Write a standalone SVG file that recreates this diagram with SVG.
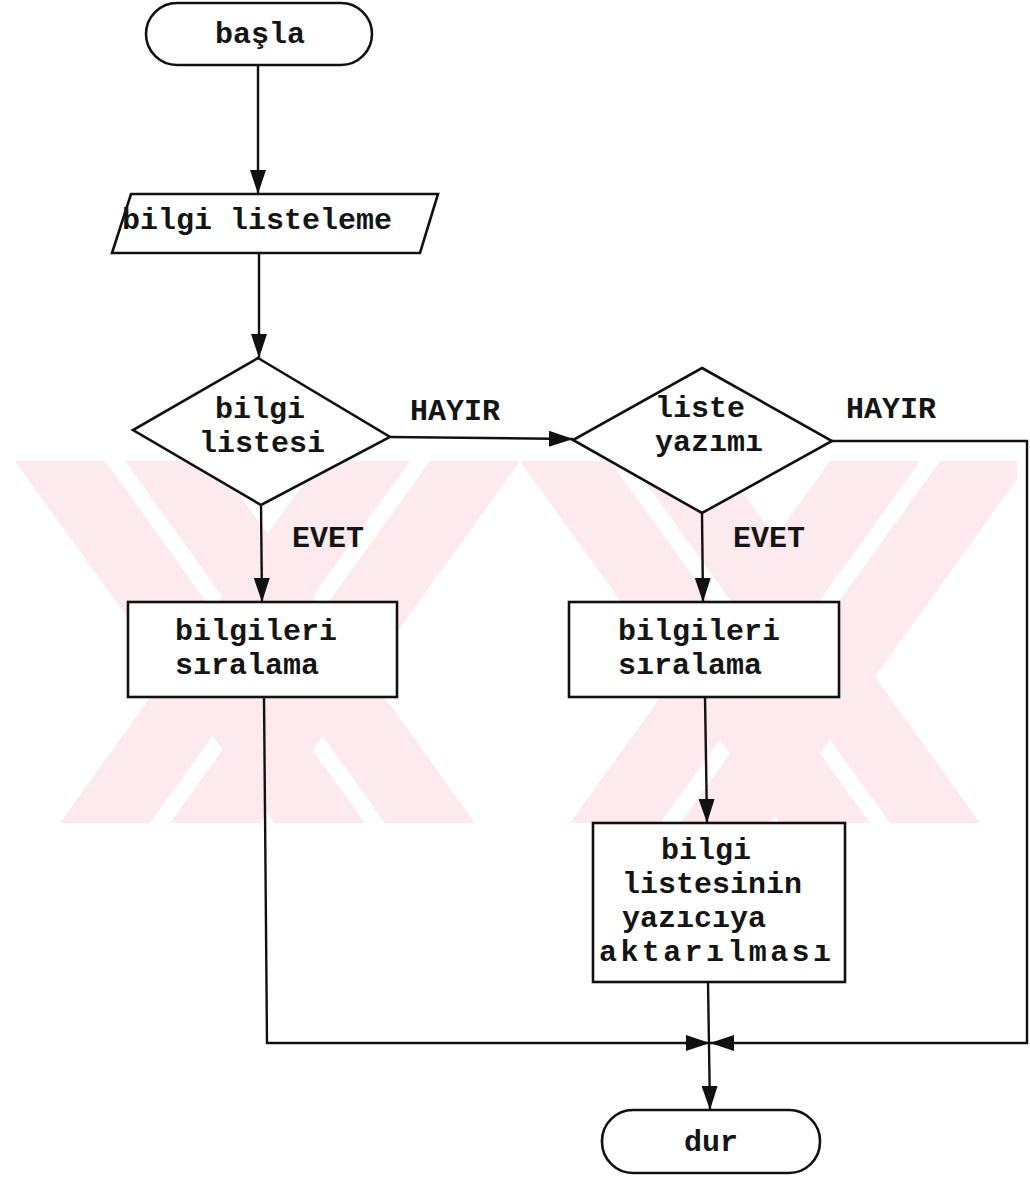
<svg xmlns="http://www.w3.org/2000/svg" width="1030" height="1178" viewBox="0 0 1030 1178">
  <defs>
    <style>
      .shape { fill: #ffffff; stroke: #111111; stroke-width: 2.6; stroke-linejoin: miter; }
      .line { fill: none; stroke: #111111; stroke-width: 2.4; }
      .txt { font-family: "Liberation Mono", "Courier New", monospace; font-weight: bold; font-size: 30px; fill: #151515; }
      .mid { text-anchor: middle; }
      .wm { fill: #fdeaee; }
    </style>
    <marker id="arrow" viewBox="0 0 24 16" refX="24" refY="8" markerWidth="24" markerHeight="16" markerUnits="userSpaceOnUse" orient="auto">
      <path d="M0,0 L24,8 L0,16 Z" fill="#111111"/>
    </marker>
    <clipPath id="band">
      <rect x="5" y="461" width="1012" height="362"/>
    </clipPath>
  </defs>
  <rect x="0" y="0" width="1030" height="1178" fill="#ffffff"/>

  <g id="watermark" clip-path="url(#band)">
    <polygon class="wm" points="15,461 105,461 365,823 275,823"/>
    <polygon class="wm" points="125,461 215,461 475,823 385,823"/>
    <polygon class="wm" points="320,461 410,461 150,823 60,823"/>
    <polygon class="wm" points="430,461 520,461 260,823 170,823"/>
    <polygon class="wm" points="520,461 610,461 870,823 780,823"/>
    <polygon class="wm" points="630,461 720,461 980,823 890,823"/>
    <polygon class="wm" points="830,461 920,461 660,823 570,823"/>
    <polygon class="wm" points="940,461 1030,461 770,823 680,823"/>
  </g>

  <g id="connectors">
    <line class="line" x1="258" y1="65" x2="258" y2="194" marker-end="url(#arrow)"/>
    <line class="line" x1="259" y1="253" x2="259" y2="358" marker-end="url(#arrow)"/>
    <line class="line" x1="390" y1="437" x2="573" y2="439" marker-end="url(#arrow)"/>
    <line class="line" x1="261" y1="505" x2="262" y2="602" marker-end="url(#arrow)"/>
    <line class="line" x1="702" y1="513" x2="703" y2="602" marker-end="url(#arrow)"/>
    <line class="line" x1="705" y1="697" x2="707" y2="823" marker-end="url(#arrow)"/>
    <line class="line" x1="708" y1="982" x2="710" y2="1110" marker-end="url(#arrow)"/>
    <polyline class="line" points="264,697 267,1043 710,1043" marker-end="url(#arrow)"/>
    <polyline class="line" points="832,441 1027,441 1027,1043 710,1043" marker-end="url(#arrow)"/>
    <text class="txt" x="410" y="420">HAYIR</text>
    <text class="txt" x="846" y="418">HAYIR</text>
    <text class="txt" x="292" y="547">EVET</text>
    <text class="txt" x="733" y="547">EVET</text>
  </g>

  <g id="start">
    <rect class="shape" x="146" y="3" width="226" height="62" rx="31" ry="31"/>
    <text class="txt mid" x="260" y="43">başla</text>
  </g>

  <g id="input">
    <polygon class="shape" points="131,194 438,194 420,253 112,253"/>
    <text class="txt" x="122" y="229">bilgi listeleme</text>
  </g>

  <g id="decision1">
    <polygon class="shape" points="258,358 390,437 261,505 133,430"/>
    <text class="txt mid" x="260" y="418">bilgi</text>
    <text class="txt mid" x="262" y="452">listesi</text>
  </g>

  <g id="decision2">
    <polygon class="shape" points="702,368 832,441 702,513 573,440"/>
    <text class="txt" x="655" y="417">liste</text>
    <text class="txt" x="655" y="451">yazımı</text>
  </g>

  <g id="process1">
    <rect class="shape" x="128" y="602" width="269" height="95"/>
    <text class="txt" x="175" y="640">bilgileri</text>
    <text class="txt" x="175" y="674">sıralama</text>
  </g>

  <g id="process2">
    <rect class="shape" x="569" y="602" width="270" height="95"/>
    <text class="txt" x="618" y="640">bilgileri</text>
    <text class="txt" x="618" y="674">sıralama</text>
  </g>

  <g id="process3">
    <rect class="shape" x="593" y="823" width="252" height="159"/>
    <text class="txt" x="661" y="859">bilgi</text>
    <text class="txt" x="622" y="893">listesinin</text>
    <text class="txt" x="622" y="927">yazıcıya</text>
    <text class="txt" x="599" y="961" textLength="232">aktarılması</text>
  </g>

  <g id="end">
    <rect class="shape" x="602" y="1110" width="218" height="63" rx="31" ry="31"/>
    <text class="txt mid" x="711" y="1151">dur</text>
  </g>
</svg>
